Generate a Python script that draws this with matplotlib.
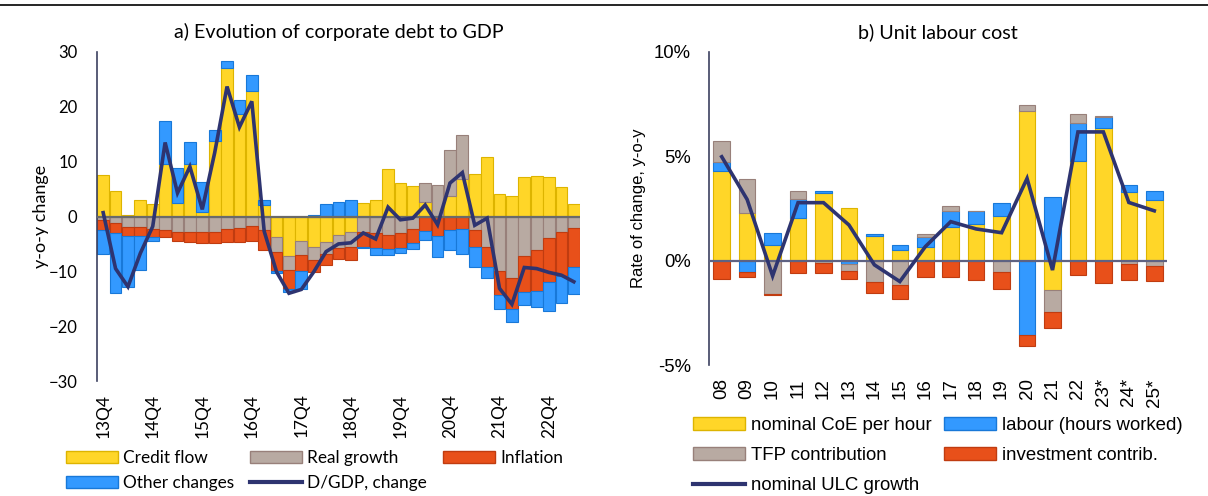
import numpy as np
import matplotlib
matplotlib.use("Agg")
import matplotlib.pyplot as plt
from matplotlib.patches import Patch
from matplotlib.lines import Line2D

# ---- panel a) corporate debt to GDP, y-o-y change, 13Q4 .. 23Q2 ----
quarters = [f"{y % 100}Q{q}" for y in range(2013, 2024) for q in range(1, 5)][3:42]
tick_labels_a = ["13Q4", "14Q4", "15Q4", "16Q4", "17Q4", "18Q4", "19Q4", "20Q4", "21Q4", "22Q4"]

credit_flow = [7.6, 4.6, 0.2, 3.0, 2.3, 9.5, 2.4, 9.5, 0.9, 13.7, 27.0, 18.7, 22.9,
               2.1, -3.8, -7.2, -4.4, -5.6, -4.6, -3.4, -2.8, 2.4, 3.0, 8.7, 6.1, 5.6,
               2.6, 0.0, 3.7, 6.8, 7.8, 10.9, 4.1, 3.8, 7.2, 7.3, 7.2, 5.4, 2.2]
real_growth = [-0.6, -1.2, -2.0, -2.0, -2.3, -2.4, -2.9, -2.9, -2.9, -2.8, -2.3, -2.1, -1.8,
               -2.4, -2.6, -2.6, -2.6, -2.4, -2.3, -2.4, -2.8, -2.9, -3.0, -3.4, -3.0, -2.2,
               3.6, 5.8, 8.5, 8.0, -2.4, -5.5, -9.9, -11.3, -7.2, -6.1, -4.0, -2.9, -2.1]
inflation = [-1.8, -1.8, -1.6, -1.6, -1.5, -1.3, -1.6, -1.7, -2.0, -2.1, -2.4, -2.6, -2.7,
             -3.8, -3.5, -3.4, -3.0, -2.2, -2.0, -2.0, -2.4, -2.6, -2.7, -2.6, -2.7, -2.7,
             -2.7, -3.5, -2.4, -2.3, -3.2, -3.7, -4.4, -5.6, -6.5, -7.4, -7.9, -8.0, -7.1]
other_changes = [-4.5, -11.0, -9.3, -6.2, -0.6, 7.9, 6.4, 4.1, 5.4, 2.1, 1.3, 2.6, 2.9,
                 0.9, -0.4, -0.6, -3.2, 0.2, 2.3, 2.7, 3.0, -0.2, -1.3, -1.0, -0.9, -1.1,
                 -1.5, -3.8, -3.8, -4.5, -3.7, -2.0, -2.6, -2.3, -2.4, -3.0, -5.4, -4.9, -4.9]
dgdp_change = [0.7, -9.5, -12.8, -6.7, -1.8, 13.5, 4.3, 9.1, 1.3, 11.6, 23.7, 16.3, 21.0,
               -2.7, -10.1, -14.0, -13.3, -10.1, -6.4, -5.0, -4.8, -3.0, -4.1, 1.7, -0.6, -0.3,
               2.1, -1.5, 6.1, 8.0, -1.6, -0.3, -13.1, -16.0, -9.3, -9.5, -10.2, -10.7, -11.9]

# ---- panel b) unit labour cost, % y-o-y ----
years_b = ["08", "09", "10", "11", "12", "13", "14", "15", "16", "17", "18", "19",
           "20", "21", "22", "23*", "24*", "25*"]
coe_per_hour = [4.31, 2.30, 0.75, 2.03, 3.25, 2.54, 1.20, 0.51, 0.64, 1.63, 1.74, 2.15,
                7.16, -1.40, 4.78, 6.38, 3.30, 2.93]
labour_hours = [0.43, -0.53, 0.56, 0.94, 0.11, -0.16, 0.08, 0.22, 0.48, 0.75, 0.64, 0.59,
                -3.56, 3.03, 1.82, 0.51, 0.35, 0.40]
tfp_contrib = [1.00, 1.60, -1.60, 0.37, -0.13, -0.33, -1.00, -1.16, 0.14, 0.24, 0.0, -0.53,
               0.32, -1.07, 0.41, 0.05, -0.16, -0.26]
invest_contrib = [-0.88, -0.24, -0.06, -0.60, -0.45, -0.38, -0.53, -0.67, -0.77, -0.77, -0.93, -0.81,
                  -0.51, -0.78, -0.69, -1.05, -0.77, -0.72]
ulc_growth = [4.98, 2.93, -0.73, 2.78, 2.78, 1.71, -0.20, -1.00, 0.67, 1.87, 1.52, 1.34,
              3.94, -0.45, 6.17, 6.17, 2.79, 2.39]

YELLOW, YELLOW_E = "#FFD628", "#DDB400"
GREY, GREY_E = "#B8AAA2", "#98807A"
ORANGE, ORANGE_E = "#E8501A", "#C03C10"
BLUE, BLUE_E = "#3399FF", "#1878D8"
NAVY = "#2E3470"
AXIS_C = "#3C4160"

CAL = ["Lato", "DejaVu Sans"]
ARIAL = ["Liberation Sans", "DejaVu Sans"]


def stacked(ax, series, colors, width):
    x = np.arange(len(series[0]))
    pos = np.zeros(len(x))
    neg = np.zeros(len(x))
    for vals, (fc, ec) in zip(series, colors):
        v = np.asarray(vals, dtype=float)
        bottom = np.where(v >= 0, pos, neg)
        ax.bar(x, v, width=width, bottom=bottom, color=fc, edgecolor=ec,
               linewidth=0.8, zorder=2)
        pos = pos + np.where(v >= 0, v, 0)
        neg = neg + np.where(v < 0, v, 0)
    return x


fig = plt.figure(figsize=(12.08, 4.96), dpi=100)
fig.add_artist(Line2D([0, 1], [0.99, 0.99], transform=fig.transFigure,
                      color="black", lw=1.2))

# ---------------- panel a ----------------
axa = fig.add_axes([97 / 1208, 1 - 381 / 496, (580 - 97) / 1208, (381 - 52) / 496])
xa = stacked(axa, [credit_flow, real_growth, inflation, other_changes],
             [(YELLOW, YELLOW_E), (GREY, GREY_E), (ORANGE, ORANGE_E), (BLUE, BLUE_E)], 0.95)
axa.plot(xa, dgdp_change, color=NAVY, lw=2.6, zorder=4, solid_joinstyle="miter")
axa.axhline(0, color="#6A6A6A", lw=1.6, zorder=3)
axa.set_xlim(-0.5, len(quarters) - 0.5)
axa.set_ylim(-30, 30)
axa.set_yticks(range(-30, 31, 10))
axa.set_xticks([quarters.index(t) for t in tick_labels_a])
axa.set_xticklabels(tick_labels_a, rotation=90, family=CAL, fontsize=12.4)
for lab in axa.get_yticklabels():
    lab.set_family(CAL)
axa.tick_params(axis="y", labelsize=12, length=0, pad=14)
axa.tick_params(axis="x", length=0, pad=9)
for s in ["top", "right", "bottom"]:
    axa.spines[s].set_visible(False)
axa.spines["left"].set_color(AXIS_C)
axa.spines["left"].set_linewidth(1.2)
axa.set_ylabel("y-o-y change", family=CAL, fontsize=13, labelpad=0)
axa.set_title("a) Evolution of corporate debt to GDP", family=CAL, fontsize=14.2, pad=10)

ha = [Patch(facecolor=YELLOW, edgecolor=YELLOW_E, label="Credit flow"),
      Patch(facecolor=BLUE, edgecolor=BLUE_E, label="Other changes"),
      Patch(facecolor=GREY, edgecolor=GREY_E, label="Real growth"),
      Line2D([], [], color=NAVY, lw=3, label="D/GDP, change"),
      Patch(facecolor=ORANGE, edgecolor=ORANGE_E, label="Inflation")]
fig.legend(handles=ha, loc="upper left", bbox_to_anchor=(66 / 1208, 1 - 450 / 496),
           ncol=3, frameon=False, prop={"family": CAL, "size": 12.4},
           handlelength=3.0, handleheight=0.7, handletextpad=0.3,
           columnspacing=0.95, labelspacing=0.55, borderpad=0, borderaxespad=0)

# ---------------- panel b ----------------
axb = fig.add_axes([709 / 1208, 1 - 365 / 496, (1167 - 709) / 1208, (365 - 52) / 496])
xb = stacked(axb, [coe_per_hour, labour_hours, tfp_contrib, invest_contrib],
             [(YELLOW, YELLOW_E), (BLUE, BLUE_E), (GREY, GREY_E), (ORANGE, ORANGE_E)], 0.65)
axb.plot(xb, ulc_growth, color=NAVY, lw=2.6, zorder=4, solid_joinstyle="miter")
axb.axhline(0, color="#5E6282", lw=1.6, zorder=3)
axb.set_xlim(-0.5, len(years_b) - 0.5)
axb.set_ylim(-5, 10)
axb.set_yticks([-5, 0, 5, 10])
axb.set_yticklabels(["-5%", "0%", "5%", "10%"], family=ARIAL)
axb.set_xticks(xb)
axb.set_xticklabels(years_b, rotation=90, family=ARIAL, fontsize=13.5)
axb.tick_params(axis="y", labelsize=13.3, length=0, pad=13)
axb.tick_params(axis="x", length=0, pad=9.5)
for s in ["top", "right", "bottom"]:
    axb.spines[s].set_visible(False)
axb.spines["left"].set_color(AXIS_C)
axb.spines["left"].set_linewidth(1.2)
axb.set_ylabel("Rate of change, y-o-y", family=ARIAL, fontsize=12, labelpad=6)
axb.set_title("b) Unit labour cost", family=CAL, fontsize=14.2, pad=10)

hb = [Patch(facecolor=YELLOW, edgecolor=YELLOW_E, label="nominal CoE per hour"),
      Patch(facecolor=GREY, edgecolor=GREY_E, label="TFP contribution"),
      Line2D([], [], color=NAVY, lw=3, label="nominal ULC growth"),
      Patch(facecolor=BLUE, edgecolor=BLUE_E, label="labour (hours worked)"),
      Patch(facecolor=ORANGE, edgecolor=ORANGE_E, label="investment contrib.")]
fig.legend(handles=hb, loc="upper left", bbox_to_anchor=(693 / 1208, 1 - 417 / 496),
           ncol=2, frameon=False, prop={"family": ARIAL, "size": 13.4},
           handlelength=2.8, handleheight=0.7, handletextpad=0.3,
           columnspacing=0.7, labelspacing=0.7, borderpad=0, borderaxespad=0)

fig.savefig("out.png", dpi=100)
